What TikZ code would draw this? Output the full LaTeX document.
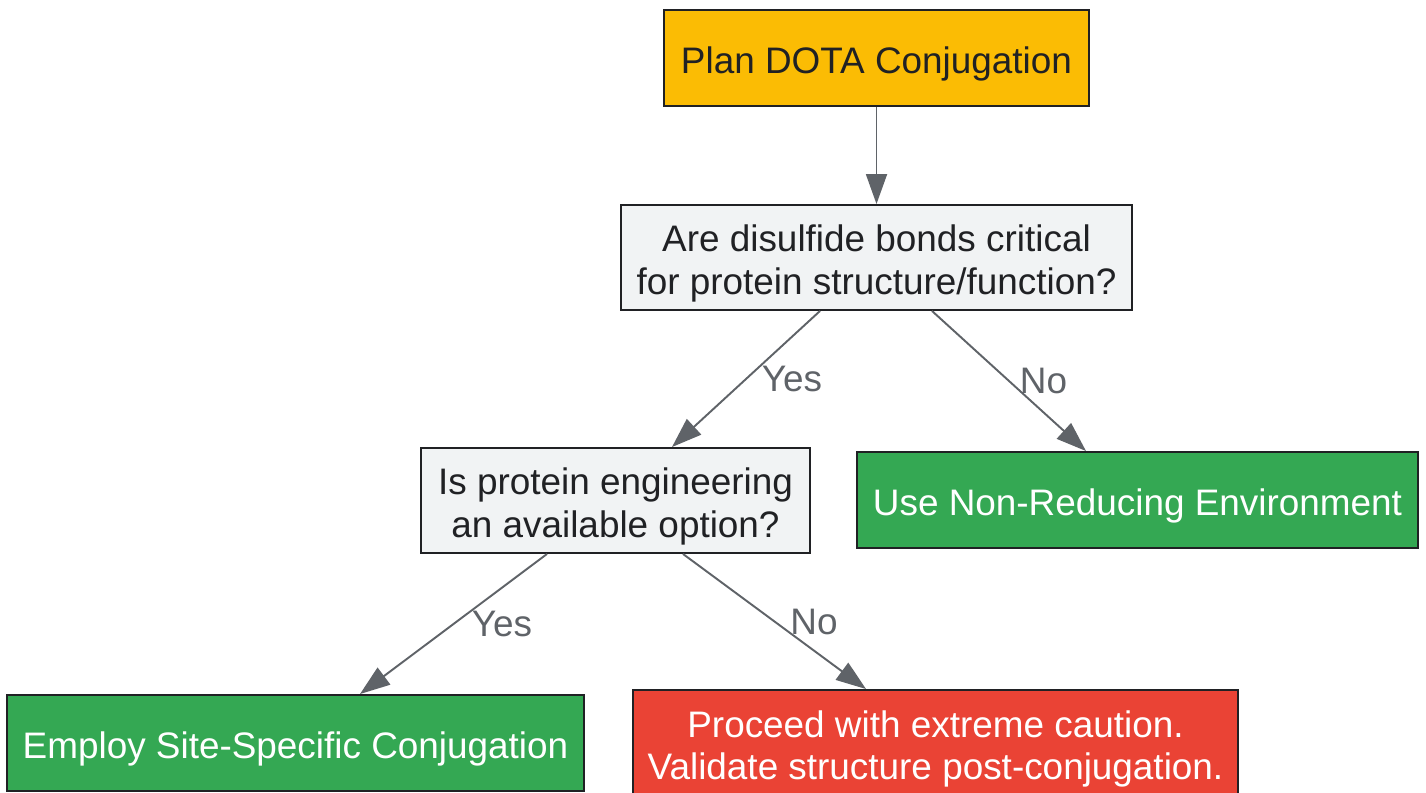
\documentclass[tikz,border=0pt]{standalone}
\usepackage{fontspec}
\setmainfont{Liberation Sans}
\usetikzlibrary{arrows.meta,positioning}
\definecolor{planyellow}{HTML}{FBBC04}
\definecolor{asklight}{HTML}{F1F3F4}
\definecolor{goodgreen}{HTML}{34A853}
\definecolor{warnred}{HTML}{EA4335}
\definecolor{inkdark}{HTML}{202124}
\definecolor{edgegray}{HTML}{5F6368}
\tikzset{
  box/.style={
    draw=inkdark,
    line width=1.1pt,
    rectangle,
    align=center,
    inner sep=0pt,
    text height=0.78cm,
    font=\fontsize{21}{24}\selectfont,
  },
  twolines/.style={text height=1.62cm},
  start/.style={box, fill=planyellow, text=inkdark},
  question/.style={box, twolines, fill=asklight, text=inkdark},
  outcome/.style={box, fill=goodgreen, text=white},
  caution/.style={box, twolines, fill=warnred, text=white},
  flow/.style={
    draw=edgegray,
    line width=1.1pt,
    -{Triangle[length=0.6cm, width=0.42cm]}
  },
  answer/.style={
    font=\fontsize{21}{24}\selectfont,
    text=edgegray,
    anchor=west,
    inner sep=0pt,
    xshift=0.3cm
  }
}
\begin{document}
\begin{tikzpicture}[x=0.02cm, y=-0.02cm]
    \useasboundingbox (0,0) rectangle (1426,793);

    \node [start, minimum width=8.5cm, minimum height=1.92cm] (plan) at (876.5,58) {Plan DOTA Conjugation};

    \node [question, minimum width=10.22cm, minimum height=2.1cm] (disulfide) at (876.5,257.5) {Are disulfide bonds critical\\for protein structure/function?};

    \node [question, minimum width=7.78cm, minimum height=2.1cm] (engineering) at (615.5,500.5) {Is protein engineering\\an available option?};

    \node [outcome, minimum width=11.22cm, minimum height=1.92cm] (nonreducing) at (1137.5,500) {Use Non-Reducing Environment};

    \node [outcome, minimum width=11.54cm, minimum height=1.92cm] (sitespecific) at (295.5,743) {Employ Site-Specific Conjugation};

    \node [caution, minimum width=12.1cm, minimum height=2.1cm] (caution) at (935.5,742.5) {Proceed with extreme caution.\\Validate structure post-conjugation.};

    \draw [flow] (plan) -- (disulfide);
    \draw [flow] ([xshift=-1.13cm]disulfide.south) -- node [answer] {Yes} ([xshift=1.13cm]engineering.north);
    \draw [flow] ([xshift=1.11cm]disulfide.south) -- node [answer, xshift=-0.1cm] {No} ([xshift=-1.03cm]nonreducing.north);
    \draw [flow] ([xshift=-1.37cm]engineering.south) -- node [answer, xshift=0.05cm] {Yes} ([xshift=1.29cm]sitespecific.north);
    \draw [flow] ([xshift=1.35cm]engineering.south) -- node [answer] {No} ([xshift=-1.39cm]caution.north);
  \end{tikzpicture}
\end{document}
